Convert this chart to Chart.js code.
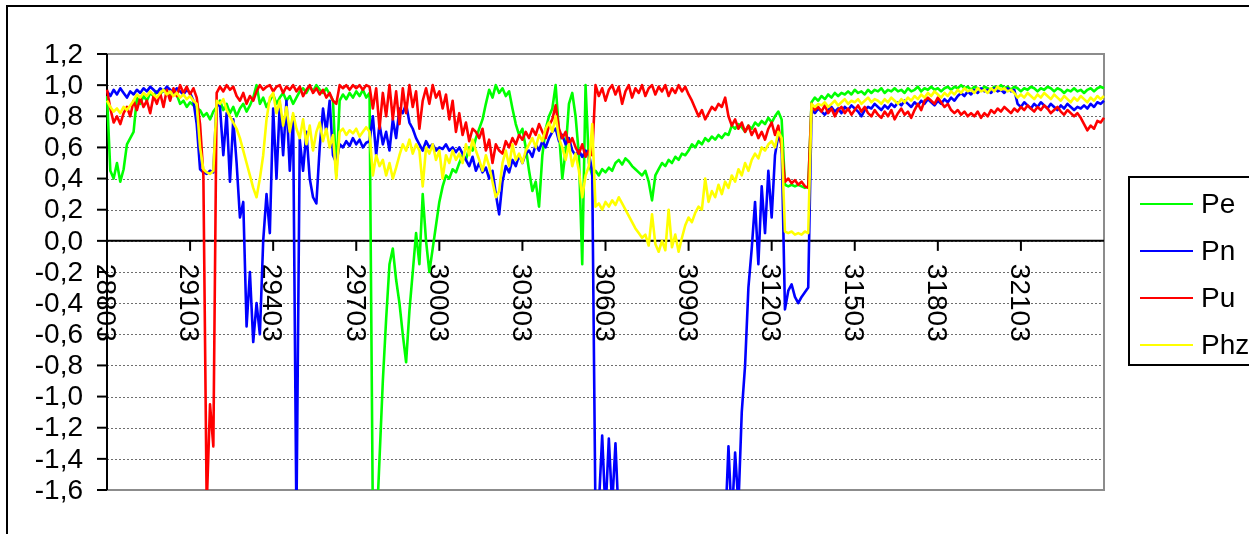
<!DOCTYPE html>
<html>
<head>
<meta charset="utf-8">
<script src="https://cdn.jsdelivr.net/npm/chart.js@4.4.0/dist/chart.umd.min.js"></script>
<style>
  html, body { margin: 0; padding: 0; background: #fff; overflow: hidden; }
  canvas { display: block; }
</style>
</head>
<body>
<canvas id="chart" width="1249" height="534"></canvas>
<script>
// Sample numbers, one every 12 units from 28803 to 32403
const categories = [];
for (let k = 0; k <= 300; k++) categories.push(String(28803 + 12 * k));

// Labelled ticks on the category axis
const xTickLabels = ['28803', '29103', '29403', '29703', '30003', '30303',
                     '30603', '30903', '31203', '31503', '31803', '32103'];

// Value axis ticks (bottom to top) and their printed form
const yTickValues = [-1.6, -1.4, -1.2, -1.0, -0.8, -0.6, -0.4, -0.2, 0, 0.2, 0.4, 0.6, 0.8, 1.0, 1.2];
const yTickLabels = ['-1,6', '-1,4', '-1,2', '-1,0', '-0,8', '-0,6', '-0,4', '-0,2',
                     '0,0', '0,2', '0,4', '0,6', '0,8', '1,0', '1,2'];

const seriesNames = ['Pe', 'Pn', 'Pu', 'Phz'];
const seriesColors = ['#00ff00', '#0000ff', '#ff0000', '#ffff00'];

const pe = [
  0.93,0.45,0.40,0.50,0.38,0.46,0.62,0.66,0.70,0.92,
  0.88,0.93,0.90,0.95,0.93,0.96,0.94,0.97,0.95,0.93,
  0.96,0.94,0.88,0.90,0.86,0.89,0.87,0.85,0.84,0.80,
  0.82,0.78,0.83,0.86,0.90,0.84,0.88,0.82,0.86,0.80,
  0.85,0.88,0.83,0.87,0.92,1.00,0.88,0.92,0.86,0.90,
  0.94,0.88,0.92,0.95,0.90,0.93,0.88,0.92,0.96,0.98,
  0.95,0.99,0.96,1.00,0.97,0.95,0.98,0.94,0.90,0.42,
  0.90,0.94,0.91,0.95,0.92,0.96,0.93,0.97,0.92,0.95,
  -1.80,-1.90,-1.40,-0.90,-0.50,-0.15,-0.05,-0.25,-0.40,-0.60,
  -0.78,-0.45,-0.20,0.05,-0.15,0.30,0.00,-0.20,-0.05,0.10,
  0.25,0.35,0.42,0.40,0.46,0.44,0.50,0.55,0.52,0.60,
  0.58,0.66,0.72,0.78,0.88,0.97,0.92,1.00,0.95,0.98,
  0.93,0.96,0.85,0.75,0.68,0.72,0.60,0.45,0.32,0.38,
  0.22,0.55,0.72,0.80,0.85,1.00,0.70,0.40,0.58,0.88,
  0.95,0.80,0.55,-0.15,1.00,0.50,0.42,0.45,0.42,0.46,
  0.44,0.47,0.45,0.50,0.52,0.49,0.53,0.51,0.48,0.46,
  0.44,0.42,0.45,0.38,0.26,0.42,0.46,0.50,0.48,0.52,
  0.50,0.54,0.52,0.56,0.55,0.58,0.62,0.60,0.64,0.62,
  0.66,0.64,0.67,0.65,0.68,0.66,0.69,0.68,0.74,0.72,
  0.75,0.73,0.70,0.74,0.72,0.76,0.74,0.77,0.75,0.79,
  0.76,0.80,0.83,0.78,0.36,0.35,0.36,0.35,0.36,0.35,
  0.34,0.35,0.89,0.92,0.90,0.93,0.91,0.94,0.92,0.95,
  0.93,0.95,0.94,0.96,0.94,0.97,0.95,0.96,0.94,0.97,
  0.95,0.97,0.96,0.98,0.95,0.97,0.96,0.98,0.96,0.97,
  0.95,0.98,0.96,0.97,0.99,0.96,0.98,0.97,0.99,0.97,
  0.98,0.96,0.98,0.99,0.97,0.99,0.98,1.00,0.98,0.99,
  0.97,0.99,0.98,0.97,0.99,0.98,0.97,0.99,0.98,1.00,
  0.98,0.99,0.97,0.99,0.98,0.96,0.98,0.97,0.99,0.98,
  0.96,0.98,0.97,0.99,0.98,0.96,0.98,0.97,0.95,0.97,
  0.96,0.98,0.96,0.97,0.95,0.97,0.98,0.96,0.98,0.99,
  0.98
];

const pn = [
  0.96,0.93,0.97,0.94,0.98,0.95,0.92,0.96,0.94,0.97,
  0.95,0.98,0.96,0.99,0.97,0.95,0.98,0.96,0.99,0.97,
  0.95,0.98,0.96,0.94,0.97,0.95,0.90,0.75,0.46,0.44,
  0.43,0.45,0.44,0.90,0.86,0.55,0.82,0.38,0.78,0.50,
  0.15,0.25,-0.55,-0.20,-0.65,-0.40,-0.60,0.00,0.30,0.05,
  0.85,0.40,0.88,0.55,0.90,0.45,0.80,-1.80,0.65,0.45,
  0.70,0.40,0.28,0.24,0.60,0.85,0.70,0.90,0.55,0.50,
  0.62,0.60,0.64,0.61,0.66,0.62,0.65,0.60,0.63,0.64,
  0.80,0.55,0.75,0.62,0.70,0.58,0.78,0.66,0.85,0.82,
  0.88,0.76,0.72,0.66,0.62,0.58,0.64,0.60,0.62,0.58,
  0.60,0.59,0.62,0.58,0.60,0.57,0.60,0.56,0.52,0.48,
  0.54,0.45,0.50,0.44,0.47,0.40,0.45,0.30,0.17,0.38,
  0.48,0.44,0.52,0.48,0.55,0.50,0.56,0.58,0.54,0.62,
  0.58,0.64,0.60,0.66,0.70,0.72,0.64,0.68,0.62,0.66,
  0.58,0.55,0.58,0.54,0.58,0.56,0.45,-1.80,-1.70,-1.25,
  -1.75,-1.27,-1.70,-1.30,-1.80,-1.85,-1.85,-1.85,-1.85,-1.85,
  -1.85,-1.85,-1.85,-1.85,-1.85,-1.85,-1.85,-1.85,-1.85,-1.85,
  -1.85,-1.85,-1.85,-1.85,-1.85,-1.85,-1.85,-1.85,-1.85,-1.85,
  -1.85,-1.85,-1.85,-1.85,-1.85,-1.85,-1.85,-1.32,-1.80,-1.36,
  -1.70,-1.10,-0.80,-0.30,-0.05,0.25,-0.15,0.35,0.05,0.45,
  0.15,0.55,0.68,0.62,-0.44,-0.32,-0.28,-0.36,-0.40,-0.36,
  -0.33,-0.30,0.84,0.82,0.85,0.83,0.81,0.84,0.86,0.83,
  0.85,0.82,0.86,0.84,0.87,0.85,0.83,0.80,0.84,0.86,
  0.85,0.88,0.86,0.84,0.87,0.85,0.88,0.86,0.89,0.87,
  0.90,0.88,0.86,0.89,0.87,0.90,0.88,0.91,0.89,0.87,
  0.90,0.88,0.91,0.89,0.92,0.90,0.93,0.95,0.93,0.96,
  0.94,0.97,0.95,0.98,0.96,0.97,0.95,0.98,0.96,0.97,
  0.95,0.98,0.96,0.97,0.88,0.86,0.89,0.87,0.85,0.88,
  0.86,0.89,0.87,0.85,0.88,0.86,0.84,0.87,0.85,0.88,
  0.86,0.84,0.86,0.85,0.87,0.85,0.88,0.86,0.89,0.88,
  0.90
];

const pu = [
  0.97,0.85,0.76,0.80,0.75,0.82,0.86,0.80,0.90,0.84,
  0.92,0.86,0.90,0.82,0.93,0.88,0.95,0.86,0.97,0.90,
  0.98,0.93,1.00,0.95,0.99,0.94,0.98,0.92,0.75,0.42,
  -1.70,-1.05,-1.32,0.95,0.99,0.96,1.00,0.97,0.99,0.93,
  0.90,0.95,0.88,0.93,0.90,0.96,1.00,0.97,0.99,1.00,
  0.96,0.99,1.00,0.95,0.99,0.97,1.00,0.96,0.99,0.93,
  0.97,1.00,0.95,0.98,0.94,0.97,0.92,0.95,0.90,0.88,
  1.00,0.98,1.00,0.97,1.00,0.98,1.00,0.97,1.00,0.99,
  0.85,0.98,0.72,0.95,0.80,1.00,0.78,0.96,0.75,0.98,
  0.82,1.00,0.86,0.96,0.72,0.90,0.98,0.88,1.00,0.92,
  0.96,0.85,0.94,0.78,0.90,0.70,0.82,0.68,0.76,0.64,
  0.72,0.70,0.66,0.72,0.58,0.65,0.50,0.62,0.58,0.56,
  0.64,0.60,0.66,0.62,0.68,0.65,0.70,0.66,0.72,0.68,
  0.75,0.70,0.66,0.74,0.78,0.87,0.72,0.66,0.70,0.62,
  0.66,0.60,0.56,0.62,0.54,0.58,0.55,1.00,0.93,0.98,
  0.90,0.97,1.00,0.94,0.99,0.88,0.96,1.00,0.92,0.98,
  0.95,1.00,0.93,0.98,1.00,0.94,0.99,0.96,1.00,0.93,
  0.98,0.95,1.00,0.96,0.99,0.94,0.90,0.85,0.80,0.84,
  0.78,0.82,0.86,0.84,0.88,0.86,0.92,0.80,0.74,0.78,
  0.72,0.76,0.70,0.74,0.68,0.72,0.66,0.70,0.65,0.72,
  0.76,0.68,0.74,0.60,0.38,0.40,0.37,0.39,0.36,0.38,
  0.35,0.34,0.88,0.84,0.86,0.83,0.87,0.82,0.85,0.80,
  0.84,0.86,0.82,0.85,0.81,0.84,0.87,0.83,0.86,0.82,
  0.80,0.84,0.81,0.79,0.83,0.80,0.84,0.78,0.82,0.85,
  0.81,0.83,0.79,0.84,0.88,0.84,0.90,0.92,0.90,0.88,
  0.92,0.89,0.86,0.88,0.84,0.82,0.84,0.81,0.83,0.80,
  0.82,0.80,0.83,0.79,0.82,0.80,0.84,0.82,0.85,0.83,
  0.86,0.84,0.82,0.85,0.83,0.86,0.84,0.87,0.85,0.83,
  0.86,0.84,0.87,0.85,0.82,0.84,0.86,0.83,0.81,0.84,
  0.82,0.80,0.82,0.79,0.75,0.71,0.74,0.72,0.77,0.76,
  0.79
];

const phz = [
  0.90,0.86,0.83,0.85,0.82,0.86,0.84,0.87,0.90,0.94,
  0.92,0.95,0.93,0.96,0.94,0.92,0.95,0.97,0.94,0.96,
  0.93,0.95,0.92,0.94,0.91,0.93,0.90,0.88,0.60,0.46,
  0.44,0.43,0.45,0.90,0.88,0.91,0.84,0.80,0.76,0.72,
  0.66,0.58,0.50,0.42,0.34,0.28,0.40,0.55,0.78,0.92,
  0.95,0.82,0.90,0.74,0.86,0.70,0.82,0.72,0.66,0.78,
  0.62,0.74,0.58,0.70,0.76,0.64,0.72,0.60,0.68,0.40,
  0.70,0.72,0.68,0.71,0.69,0.72,0.67,0.70,0.73,0.70,
  0.42,0.55,0.48,0.52,0.42,0.50,0.40,0.47,0.55,0.62,
  0.58,0.65,0.56,0.62,0.58,0.35,0.60,0.56,0.62,0.52,
  0.58,0.40,0.55,0.50,0.58,0.52,0.56,0.50,0.62,0.55,
  0.65,0.58,0.52,0.45,0.55,0.48,0.38,0.28,0.32,0.50,
  0.58,0.48,0.62,0.52,0.56,0.50,0.58,0.62,0.66,0.60,
  0.68,0.64,0.72,0.76,0.70,0.80,0.66,0.60,0.52,0.62,
  0.48,0.56,0.45,0.28,0.42,0.48,0.75,0.22,0.24,0.20,
  0.25,0.22,0.26,0.23,0.28,0.24,0.20,0.16,0.12,0.08,
  0.05,0.02,0.04,-0.03,0.17,-0.02,-0.07,0.00,-0.06,0.20,
  -0.04,0.04,-0.07,0.02,0.10,0.15,0.12,0.18,0.22,0.20,
  0.40,0.25,0.32,0.28,0.36,0.30,0.38,0.34,0.42,0.38,
  0.46,0.42,0.50,0.45,0.52,0.56,0.53,0.60,0.58,0.62,
  0.64,0.60,0.70,0.66,0.06,0.05,0.06,0.04,0.05,0.04,
  0.06,0.05,0.88,0.86,0.88,0.87,0.89,0.86,0.88,0.90,
  0.87,0.89,0.91,0.88,0.90,0.89,0.91,0.88,0.90,0.92,
  0.89,0.91,0.90,0.88,0.91,0.89,0.92,0.90,0.88,0.91,
  0.89,0.92,0.90,0.93,0.91,0.94,0.92,0.95,0.93,0.96,
  0.94,0.92,0.95,0.93,0.96,0.94,0.97,0.95,0.98,0.96,
  0.97,0.95,0.98,0.96,0.97,0.95,0.98,0.96,0.99,0.97,
  0.98,0.96,0.97,0.95,0.92,0.94,0.92,0.95,0.93,0.91,
  0.94,0.92,0.95,0.93,0.91,0.94,0.92,0.90,0.93,0.91,
  0.89,0.92,0.90,0.93,0.91,0.89,0.92,0.90,0.93,0.91,
  0.93
];

const FONT = '28px "Liberation Sans", Arial, sans-serif';

// Frame, grid, axes, tick labels and the boxed legend
const decor = {
  id: 'decor',
  beforeDraw(chart) {
    const c = chart.ctx;
    c.save();
    c.fillStyle = '#ffffff';
    c.fillRect(0, 0, chart.width, chart.height);
    c.fillStyle = '#000000';
    c.fillRect(6, 5, chart.width - 6, 2);
    c.fillRect(6, 5, 2, chart.height - 5);
    c.restore();
  },
  beforeDatasetsDraw(chart) {
    const c = chart.ctx;
    const a = chart.chartArea;
    const x = chart.scales.x, y = chart.scales.y;
    c.save();

    // dotted horizontal grid
    c.strokeStyle = '#6e6e6e';
    c.lineWidth = 1;
    c.setLineDash([2, 2]);
    yTickValues.forEach((v, i) => {
      if (i === 0 || i === yTickValues.length - 1) return;
      const py = Math.round(y.getPixelForValue(v)) + 0.5;
      c.beginPath(); c.moveTo(a.left, py); c.lineTo(a.right, py); c.stroke();
    });
    c.setLineDash([]);

    // plot area border
    c.strokeStyle = '#8c8c8c';
    c.lineWidth = 2;
    c.strokeRect(a.left, a.top, a.right - a.left, a.bottom - a.top);

    // value axis with outward ticks
    c.strokeStyle = '#000000';
    c.lineWidth = 2;
    c.beginPath(); c.moveTo(a.left, a.top); c.lineTo(a.left, a.bottom); c.stroke();
    yTickValues.forEach(v => {
      const py = y.getPixelForValue(v);
      c.beginPath(); c.moveTo(a.left - 10, py); c.lineTo(a.left, py); c.stroke();
    });

    // category axis crossing at zero
    const y0 = y.getPixelForValue(0);
    c.beginPath(); c.moveTo(a.left, y0); c.lineTo(a.right, y0); c.stroke();
    xTickLabels.forEach(lab => {
      const px = x.getPixelForValue(categories.indexOf(lab));
      c.beginPath(); c.moveTo(px, y0); c.lineTo(px, y0 + 10); c.stroke();
    });

    // tick labels
    c.fillStyle = '#000000';
    c.font = FONT;
    c.textAlign = 'right';
    c.textBaseline = 'middle';
    yTickValues.forEach((v, i) => {
      c.fillText(yTickLabels[i], a.left - 24, y.getPixelForValue(v) + 1);
    });
    xTickLabels.forEach(lab => {
      const px = x.getPixelForValue(categories.indexOf(lab));
      c.save();
      c.translate(px - 2, y0 + 23);
      c.rotate(Math.PI / 2);
      c.textAlign = 'left';
      c.textBaseline = 'middle';
      c.fillText(lab, 0, 0);
      c.restore();
    });
    c.restore();
  },
  afterDraw(chart) {
    const c = chart.ctx;
    c.save();
    const bx = 1129, by = 177, bh = 188;
    c.strokeStyle = '#000000';
    c.lineWidth = 2;
    c.strokeRect(bx, by, 200, bh);
    c.font = FONT;
    c.textAlign = 'left';
    c.textBaseline = 'middle';
    chart.data.datasets.forEach((ds, i) => {
      const ly = by + 27 + i * 47;
      c.strokeStyle = ds.borderColor;
      c.lineWidth = 2;
      c.beginPath(); c.moveTo(bx + 11, ly); c.lineTo(bx + 64, ly); c.stroke();
      c.fillStyle = '#000000';
      c.fillText(ds.label, bx + 72, ly + 1);
    });
    c.restore();
  }
};

const seriesData = [pe, pn, pu, phz];

new Chart(document.getElementById('chart'), {
  type: 'line',
  data: {
    labels: categories,
    datasets: seriesNames.map((name, i) => ({
      label: name,
      data: seriesData[i],
      borderColor: seriesColors[i],
      backgroundColor: seriesColors[i],
      borderWidth: 2.6,
      borderJoinStyle: 'round',
      pointRadius: 0,
      tension: 0,
      fill: false,
      order: seriesNames.length - i
    }))
  },
  options: {
    responsive: false,
    animation: false,
    devicePixelRatio: 1,
    layout: { padding: { left: 107, top: 54, right: 145, bottom: 44 } },
    scales: {
      x: { display: false },
      y: { display: false, min: -1.6, max: 1.2 }
    },
    plugins: {
      legend: { display: false },
      tooltip: { enabled: false }
    }
  },
  plugins: [decor]
});
</script>
</body>
</html>
